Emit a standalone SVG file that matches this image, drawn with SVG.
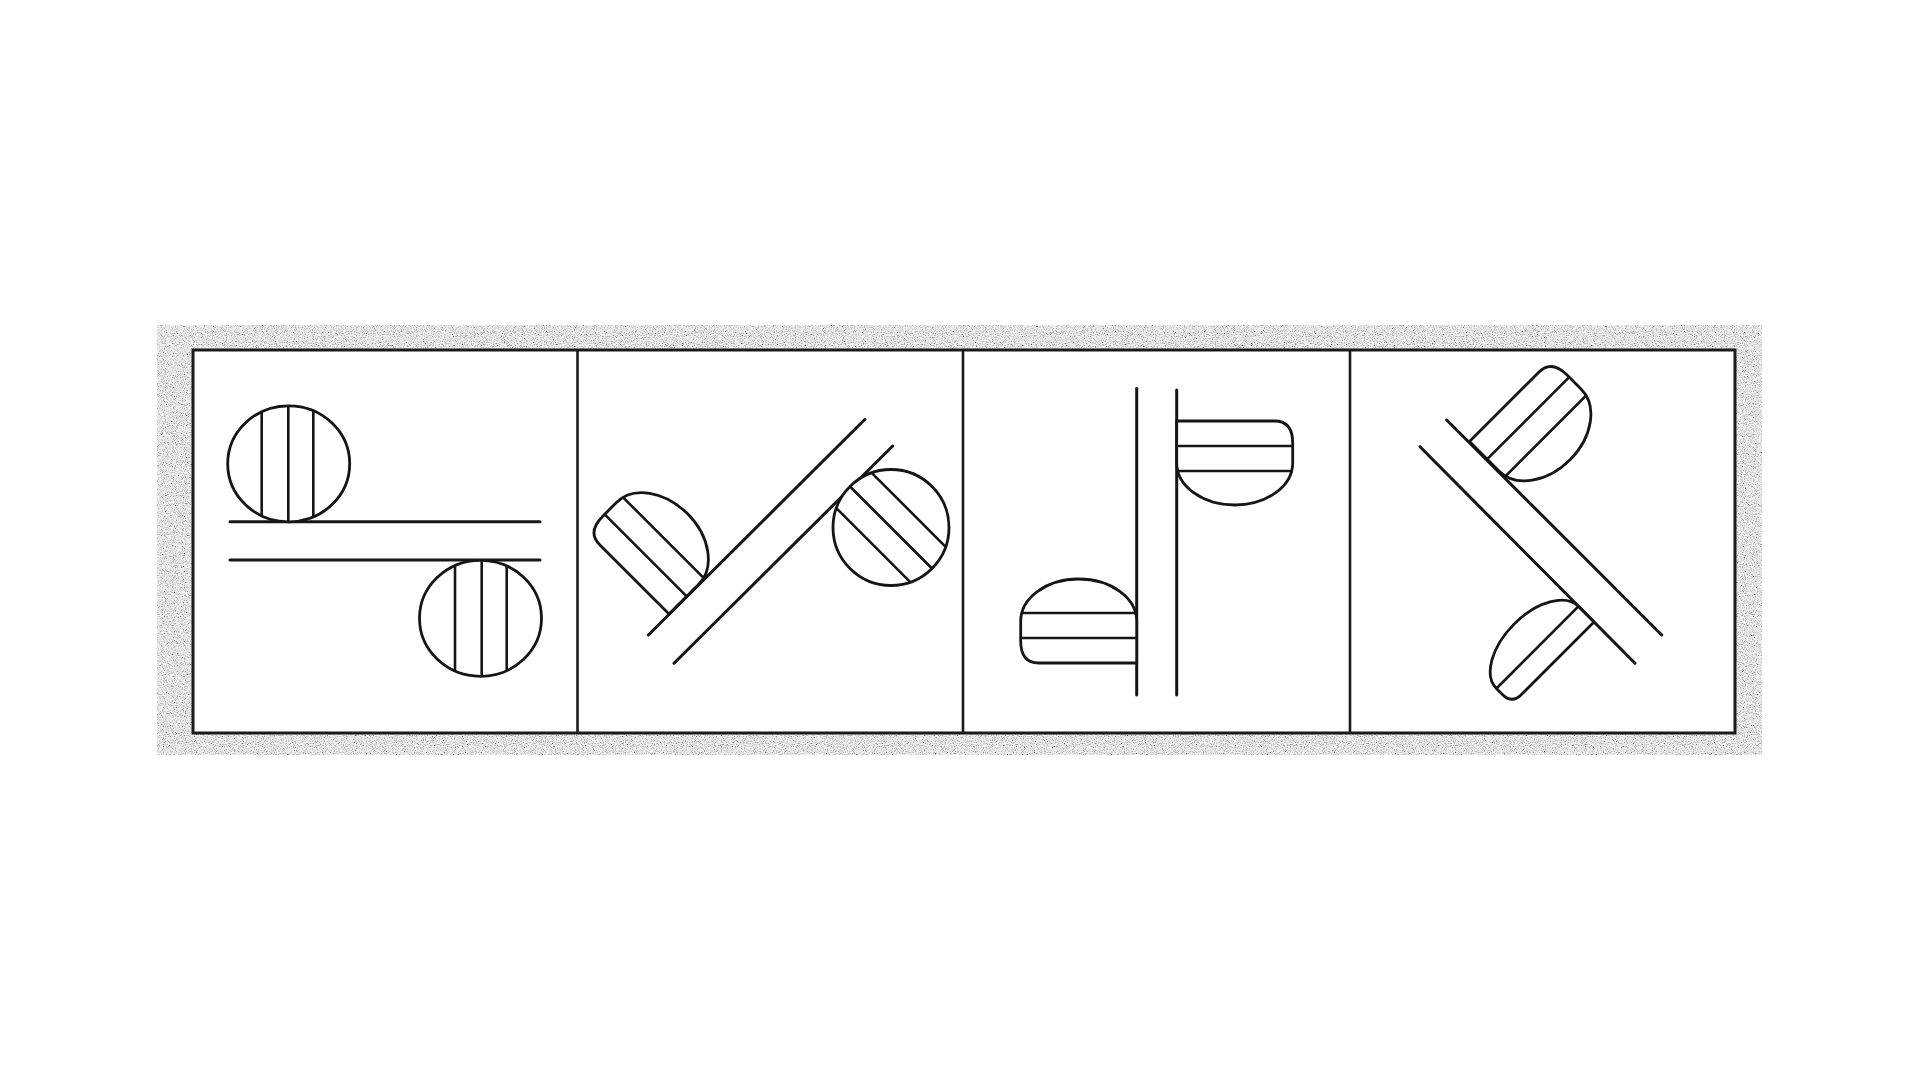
<svg xmlns="http://www.w3.org/2000/svg" width="1920" height="1080" viewBox="0 0 1920 1080">
<style>
  .ln{stroke:#151515;stroke-width:3;fill:none;stroke-linecap:round}
  .sh{stroke:#151515;stroke-width:2.8;fill:#fff;stroke-linejoin:round}
  .ht{stroke:#151515;stroke-width:2.6;fill:none}
  .box{stroke:#1a1a1a;stroke-width:3;fill:#fff}
  .div{stroke:#1a1a1a;stroke-width:2.6}
</style>
<defs>
  <filter id="grain" x="0" y="0" width="100%" height="100%">
    <feTurbulence type="fractalNoise" baseFrequency="0.9" numOctaves="2" seed="7"/>
    <feColorMatrix type="matrix" values="2.6 0 0 0 -0.5  2.6 0 0 0 -0.5  2.6 0 0 0 -0.5  0 0 0 0 1"/>
  </filter>
  <g id="half">
    <path class="sh" d="M0,0 L98,0 C110,0 116,8 116,22 L116,42 A58 42 0 0 1 0,42 Z"/>
    <path class="ht" d="M0,25 H116 M0,50 H115"/>
  </g>
  <g id="halfSmall">
    <path class="sh" d="M0,0 L104,0 C112,0 116,6 116,12 L116,22 A58 33 0 0 1 0,22 Z"/>
    <path class="ht" d="M0,22 H116"/>
  </g>
</defs>

<rect width="1920" height="1080" fill="#fff"/>

<g id="frame">
  <rect x="157" y="325" width="1605" height="430" fill="#e4e4e4"/>
  <rect x="157" y="325" width="1605" height="430" filter="url(#grain)" opacity="0.55"/>
  <rect class="box" x="193" y="350" width="1542" height="383"/>
  <line class="div" x1="577.5" y1="350" x2="577.5" y2="733"/>
  <line class="div" x1="963" y1="350" x2="963" y2="733"/>
  <line class="div" x1="1350" y1="350" x2="1350" y2="733"/>
</g>

<g id="connectors">
  <line class="ln" x1="230" y1="521.7" x2="540" y2="521.7"/>
  <line class="ln" x1="230" y1="560" x2="540" y2="560"/>
  <line class="ln" x1="648.3" y1="635" x2="865" y2="419.3"/>
  <line class="ln" x1="674" y1="663.3" x2="892.7" y2="446"/>
  <line class="ln" x1="1136.7" y1="388.3" x2="1136.7" y2="695"/>
  <line class="ln" x1="1176.7" y1="390" x2="1176.7" y2="695"/>
  <line class="ln" x1="1420" y1="446.7" x2="1635" y2="663.3"/>
  <line class="ln" x1="1446.7" y1="420" x2="1661.7" y2="635"/>
</g>

<g id="p1-circle-top">
  <ellipse class="sh" cx="288.7" cy="463.8" rx="61" ry="58"/>
  <path class="ht" d="M261.7,411.8 V515.8 M288.3,405.8 V521.8 M313.3,410.9 V516.7"/>
</g>
<g id="p1-circle-bottom">
  <ellipse class="sh" cx="480.5" cy="618.3" rx="61" ry="58"/>
  <path class="ht" d="M455,565.6 V671 M481.7,560.3 V676.3 M506.7,565.9 V670.7"/>
</g>

<g id="p2-half-left" transform="translate(669 614) rotate(225)">
  <use href="#half"/>
</g>
<g id="p2-circle-right" transform="translate(891 527.5) rotate(-45)">
  <circle class="sh" cx="0" cy="0" r="58"/>
  <path class="ht" d="M-25,-52.3 V52.3 M0,-58 V58 M25,-52.3 V52.3"/>
</g>

<g id="p3-half-top" transform="translate(1176.7 421)">
  <use href="#half"/>
</g>
<g id="p3-half-bottom" transform="translate(1136.7 663) rotate(180)">
  <use href="#half"/>
</g>

<g id="p4-half-top" transform="translate(1469.5 441.5) rotate(-45)">
  <use href="#half"/>
</g>
<g id="p4-half-bottom" transform="translate(1594 622) rotate(135)">
  <use href="#halfSmall"/>
</g>
</svg>
